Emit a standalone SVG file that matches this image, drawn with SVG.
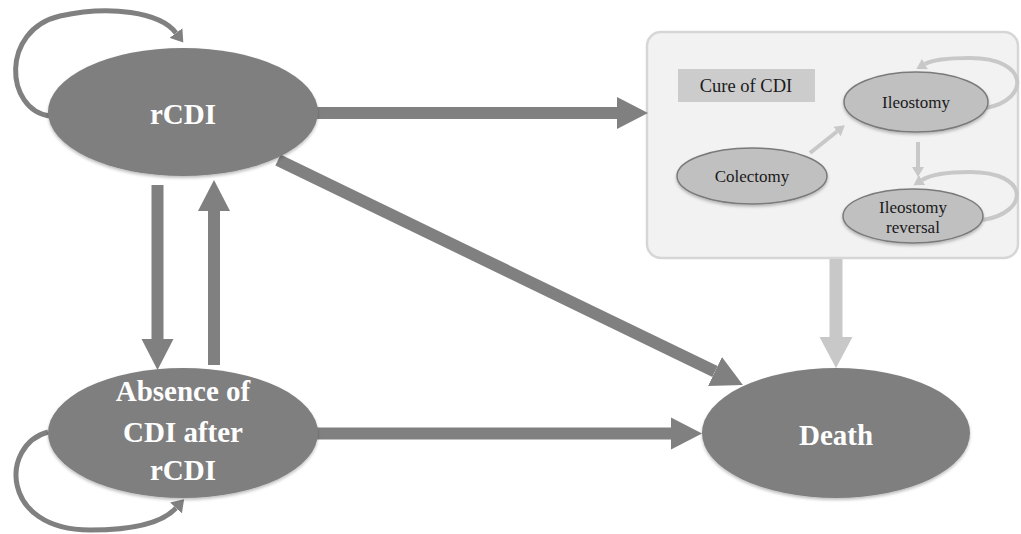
<svg xmlns="http://www.w3.org/2000/svg" width="1021" height="534" viewBox="0 0 1021 534">
<style>
.main{fill:#7f7f7f;filter:url(#sh)}
.mt{font-family:"Liberation Serif","Times New Roman",serif;font-weight:bold;font-size:29px;fill:#ffffff;text-anchor:middle}
.sub{fill:#c0c0c0;stroke:#7a7a7a;stroke-width:1.5;filter:url(#sh)}
.st{font-family:"Liberation Serif","Times New Roman",serif;font-size:17px;fill:#1a1a1a;text-anchor:middle}
.dk{stroke:#808080;stroke-width:12;fill:none;marker-end:url(#hd)}
.lt{stroke:#c8c8c8;stroke-width:13;fill:none;marker-end:url(#hl)}
.loop{stroke:#808080;stroke-width:5;fill:none;marker-end:url(#hdl)}
.sl{stroke:#c8c8c8;stroke-width:4;fill:none;marker-end:url(#hls)}
</style>
<defs>
<filter id="sh" x="-10%" y="-10%" width="120%" height="130%">
<feDropShadow dx="0" dy="2" stdDeviation="1.5" flood-color="#000" flood-opacity="0.25"/>
</filter>
<marker id="hd" markerUnits="userSpaceOnUse" markerWidth="32" markerHeight="34" refX="0" refY="17" orient="auto"><path d="M0,1 L31,17 L0,33 z" fill="#808080"/></marker>
<marker id="hl" markerUnits="userSpaceOnUse" markerWidth="32" markerHeight="34" refX="0" refY="17" orient="auto"><path d="M0,0.5 L31,17 L0,33.5 z" fill="#c8c8c8"/></marker>
<marker id="hdl" markerUnits="userSpaceOnUse" markerWidth="13" markerHeight="16" refX="0" refY="8" orient="auto"><path d="M0,0 L12,8 L0,16 z" fill="#808080"/></marker>
<marker id="hls" markerUnits="userSpaceOnUse" markerWidth="11" markerHeight="12" refX="0" refY="6" orient="auto"><path d="M0,0 L10,6 L0,12 z" fill="#c8c8c8"/></marker>
</defs>
<rect width="1021" height="534" fill="#ffffff"/>

<g id="cure-box">
<rect x="647" y="32" width="371" height="226" rx="14" fill="#f2f2f2" stroke="#d6d6d6" stroke-width="2.5"/>
<rect x="678" y="69" width="137" height="33" fill="#cccccc"/>
<text class="st" x="746" y="92" style="font-size:18.5px">Cure of CDI</text>
</g>

<g id="connectors">
<line class="dk" x1="316" y1="113" x2="617" y2="113"/>
<line class="dk" x1="278" y1="160" x2="715" y2="371.5"/>
<line class="dk" x1="157.5" y1="185" x2="157.5" y2="339"/>
<line class="dk" x1="214" y1="365" x2="214" y2="211"/>
<line class="dk" x1="316" y1="433.5" x2="671" y2="433.5"/>
<line class="lt" x1="836" y1="259" x2="836" y2="337"/>
<path class="loop" d="M50,116 C5,110 0,30 60,16 C110,5 160,12 176,33"/>
<path class="loop" d="M48,432 C0,445 0,530 90,530 C140,530 165,520 176,508"/>
<line class="sl" x1="810" y1="153" x2="837" y2="131.5"/>
<line class="sl" x1="918" y1="142" x2="918" y2="167"/>
<path class="sl" d="M986,108 C1030,100 1030,58 970,58 C945,58 932,60 925,64"/>
<path class="sl" d="M983,220 C1030,212 1030,172 970,172 C945,172 930,175 922,180"/>
</g>

<g id="node-rcdi">
<ellipse class="main" cx="183" cy="112" rx="135" ry="64"/>
<text class="mt" x="183" y="124">rCDI</text>
</g>
<g id="node-absence">
<ellipse class="main" cx="183" cy="433" rx="135" ry="65"/>
<text class="mt" x="183" y="401">Absence of</text>
<text class="mt" x="183" y="442">CDI after</text>
<text class="mt" x="183" y="480">rCDI</text>
</g>
<g id="node-death">
<ellipse class="main" cx="836" cy="433" rx="134" ry="65"/>
<text class="mt" x="836" y="445">Death</text>
</g>
<g id="node-ileostomy">
<ellipse class="sub" cx="916" cy="102" rx="72" ry="30"/>
<text class="st" x="916" y="108">Ileostomy</text>
</g>
<g id="node-colectomy">
<ellipse class="sub" cx="752" cy="176" rx="75" ry="28"/>
<text class="st" x="752" y="182">Colectomy</text>
</g>
<g id="node-reversal">
<ellipse class="sub" cx="913" cy="216" rx="70" ry="27"/>
<text class="st" x="913" y="213">Ileostomy</text>
<text class="st" x="913" y="233">reversal</text>
</g>
</svg>
